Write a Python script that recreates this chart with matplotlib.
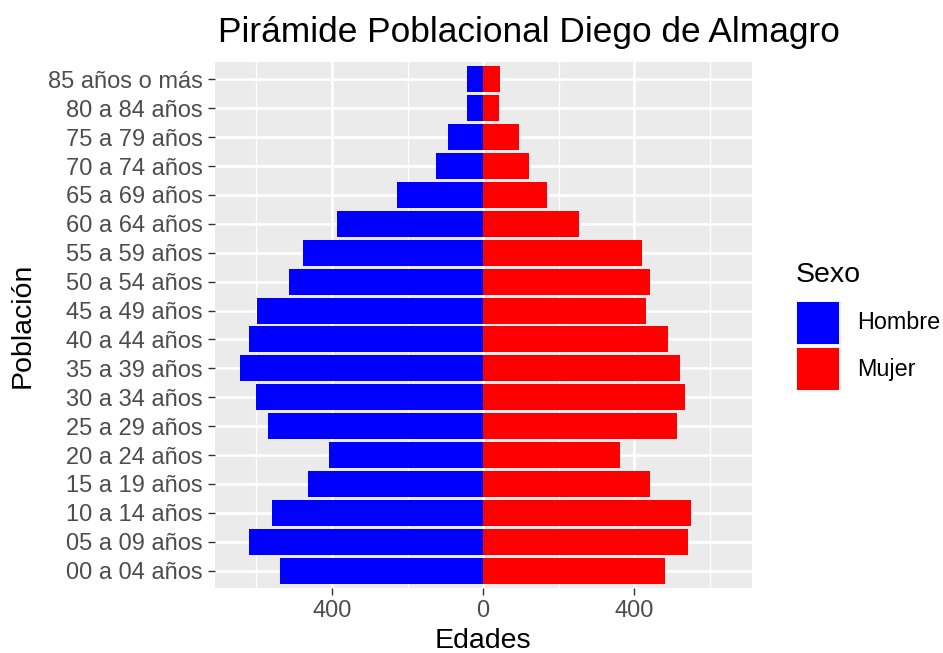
## piramide poblacional Diego de Almagro

import numpy as np
import matplotlib.pyplot as plt
from matplotlib.patches import Rectangle

plt.rcParams['font.family'] = ['Liberation Sans', 'DejaVu Sans']

## datos (de abajo hacia arriba)
edades = ['00 a 04 años', '05 a 09 años', '10 a 14 años', '15 a 19 años',
          '20 a 24 años', '25 a 29 años', '30 a 34 años', '35 a 39 años',
          '40 a 44 años', '45 a 49 años', '50 a 54 años', '55 a 59 años',
          '60 a 64 años', '65 a 69 años', '70 a 74 años', '75 a 79 años',
          '80 a 84 años', '85 años o más']
hombres = [537, 619, 558, 462, 408, 569, 602, 644, 619, 597, 514, 477,
           386, 227, 126, 92, 44, 44]
mujeres = [480, 541, 549, 442, 363, 512, 534, 520, 490, 431, 440, 420,
           254, 169, 120, 96, 43, 45]

W, H = 943, 653
fig = plt.figure(figsize=(W / 100, H / 100), dpi=100)

# panel en pixeles
left, right, top, bottom = 214.7, 751.6, 62, 588
ax = fig.add_axes([left / W, 1 - bottom / H, (right - left) / W, (bottom - top) / H])
ax.set_facecolor('#EBEBEB')
for s in ax.spines.values():
    s.set_visible(False)

y = np.arange(len(edades))
ax.barh(y, -np.array(hombres), height=0.9, color='#0000FF', zorder=3)
ax.barh(y, mujeres, height=0.9, color='#FF0000', zorder=3)

ax.set_xlim(-710, 710)
ax.set_ylim(-0.6, len(edades) - 0.4)

ax.set_xticks([-400, 0, 400])
ax.set_xticklabels([str(abs(v)) for v in [-400, 0, 400]])
ax.set_xticks([-600, -200, 200, 600], minor=True)
ax.set_yticks(y)
ax.set_yticklabels(edades)

## grilla blanca
ax.grid(which='major', color='white', linewidth=1.9, zorder=1)
ax.grid(which='minor', axis='x', color='white', linewidth=0.95, zorder=1)
ax.set_axisbelow(True)

ax.tick_params(which='major', length=5.2, width=1.0, color='#333333',
               labelsize=17, labelcolor='#4D4D4D', pad=3.5)
ax.tick_params(which='minor', length=0)

ax.set_xlabel('Edades', fontsize=20.5, color='black', labelpad=4)
ax.set_ylabel('Población', fontsize=20.5, color='black', labelpad=9)
fig.text(218 / W, 1 - 42 / H, 'Pirámide Poblacional Diego de Almagro',
         fontsize=25.4, ha='left', va='baseline')

## leyenda
fig.text(796 / W, 1 - 282 / H, 'Sexo', fontsize=20.5, ha='left', va='baseline')
keys = [('Hombre', '#0000FF', 301), ('Mujer', '#FF0000', 347)]
for lab, col, ky in keys:
    fig.patches.append(Rectangle((795.5 / W, 1 - (ky + 44.5) / H), 45 / W, 45 / H,
                                 transform=fig.transFigure, facecolor='#F2F2F2',
                                 edgecolor='none'))
    fig.patches.append(Rectangle((797 / W, 1 - (ky + 43) / H), 42 / W, 42 / H,
                                 transform=fig.transFigure, facecolor=col,
                                 edgecolor='none'))
    fig.text(857 / W, 1 - (ky + 22) / H, lab, fontsize=16.8, ha='left', va='center')

fig.savefig('out.png', dpi=100)
